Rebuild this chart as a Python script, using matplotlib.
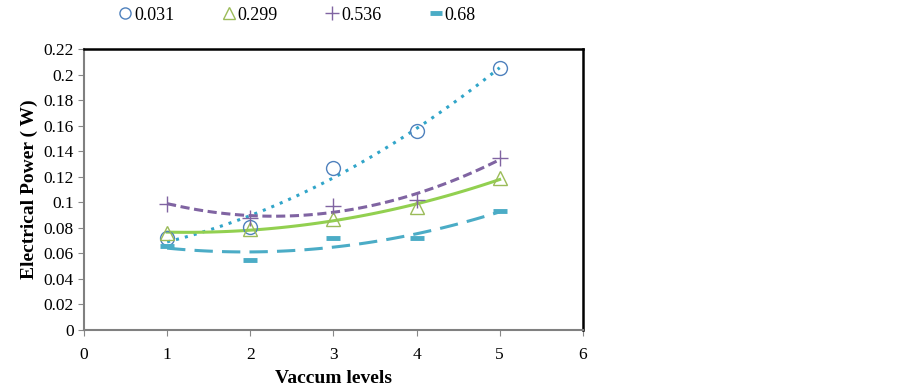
import numpy as np
import matplotlib.pyplot as plt

plt.rcParams['font.family'] = ['Liberation Serif', 'DejaVu Serif']

# vacuum levels
levels = [1, 2, 3, 4, 5]

# electrical power (W) for each series
p_031 = [0.072, 0.081, 0.127, 0.156, 0.205]
p_299 = [0.076, 0.079, 0.087, 0.096, 0.119]
p_536 = [0.099, 0.088, 0.097, 0.102, 0.135]
p_068 = [0.066, 0.055, 0.072, 0.072, 0.093]

names = ["0.031", "0.299", "0.536", "0.68"]

fig = plt.figure(figsize=(9.02, 3.88), dpi=100)
ax = fig.add_axes([0.0931, 0.1495, 0.553, 0.724])

x = np.array(levels)
xs = np.linspace(1, 5, 100)

# (values, marker, marker colour, trend colour, trend style, marker size, marker width)
series = [
    (p_031, 'o', '#4F81BD', '#31A5C9', (0, (1, 2)), 10, 1.0),
    (p_299, '^', '#9BBB59', '#92D050', '-', 10, 1.0),
    (p_536, '+', '#8064A2', '#8064A2', (0, (3, 1.5)), 12, 1.0),
    (p_068, '_', '#4BACC6', '#4BACC6', (0, (6, 3)), 10, 3.5),
]

for (vals, m, mc, tc, ls, ms, mw), name in zip(series, names):
    if m in ('o', '^'):
        ax.plot(x, vals, linestyle='none', marker=m, markersize=ms,
                markerfacecolor='none', markeredgecolor=mc, markeredgewidth=mw,
                label=name, zorder=3)
    else:
        ax.plot(x, vals, linestyle='none', marker=m, markersize=ms,
                color=mc, markeredgewidth=mw, label=name, zorder=3)
    # second order polynomial trendline
    c = np.polyfit(x, vals, 2)
    ax.plot(xs, np.polyval(c, xs), color=tc, linestyle=ls, linewidth=2.2, zorder=2)

ax.set_xlim(0, 6)
ax.set_ylim(0, 0.22)
ax.set_xticks(range(0, 7))
ax.set_yticks(np.arange(0, 0.2201, 0.02))
ax.set_yticklabels(['%g' % round(v, 2) for v in np.arange(0, 0.2201, 0.02)])
ax.tick_params(labelsize=12.5, direction='out', length=4, color='#888888')
ax.tick_params(axis='x', pad=8)

for s in ['top', 'right']:
    ax.spines[s].set_color('black')
    ax.spines[s].set_linewidth(1.8)
for s in ['left', 'bottom']:
    ax.spines[s].set_color('#808080')
    ax.spines[s].set_linewidth(1.5)

ax.set_xlabel("Vaccum levels", fontsize=14, fontweight='bold', labelpad=5)
ax.set_ylabel("Electrical Power ( W)", fontsize=14, fontweight='bold')

fig.legend(loc='center left', bbox_to_anchor=(0.111, 0.961), ncol=4, frameon=False,
           fontsize=13, handletextpad=0.0, columnspacing=2.5, handlelength=1.0,
           markerscale=0.8)

fig.savefig("out.png", dpi=100)
